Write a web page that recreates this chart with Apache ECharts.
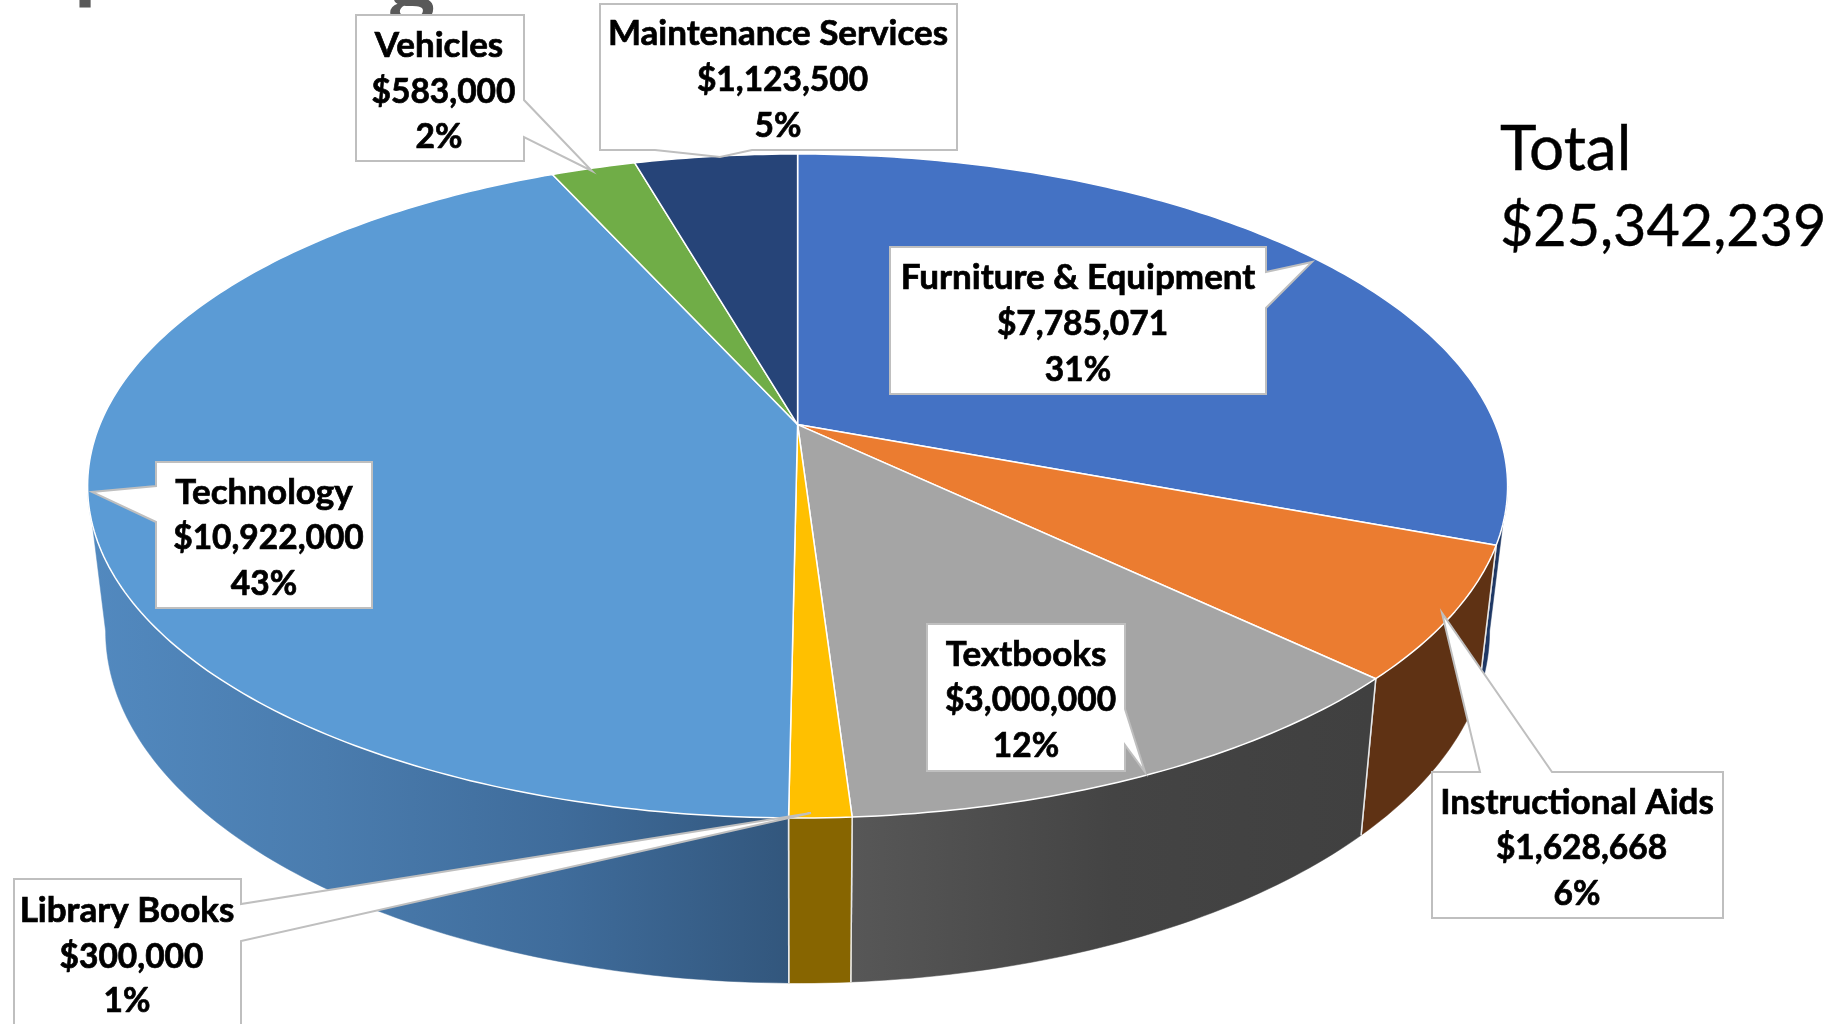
<!DOCTYPE html>
<html>
<head>
<meta charset="utf-8">
<style>html,body{margin:0;padding:0;background:#fff}#c{width:1846px;height:1024px}</style>
<script src="https://cdn.jsdelivr.net/npm/echarts@6/dist/echarts.min.js"></script>
</head>
<body>
<div id="c"></div>
<script>
const categories = ['Furniture & Equipment','Instructional Aids','Textbooks','Library Books','Technology','Vehicles','Maintenance Services'];
const values = [7785071,1628668,3000000,300000,10922000,583000,1123500];
const percentLabels = ['31%','6%','12%','1%','43%','2%','5%'];
const topColors = ['#4472c4','#eb7c30','#a5a5a5','#ffc000','#5b9bd5','#70ad47','#264478'];
const totalLabel = 'Total';

// Projection of the tilted disc (style only, no data)
const TOP = {cx:797.6, cy:486, rx:710, ry:332};
const LOW = {cx:797.6, cy:631, rx:692, ry:352};
const K = -0.185, A = Math.sqrt(1-K*K);
const sum = values.reduce((a,b)=>a+b,0);
const cum = []; values.reduce((a,v,i)=>{cum[i]=a;return a+v;},0);
const ang = v => v/sum*Math.PI*2;
function proj(E,t){
  const X=Math.sin(t), Y=-Math.cos(t), d=1+K*Y;
  return [E.cx+E.rx*X*A/d, E.cy+E.ry*(Y+K)/d];
}
function apex(E){ return [E.cx, E.cy+E.ry*K]; }
function arc(E,a,b){
  const n=Math.max(2,Math.ceil(Math.abs(b-a)/0.015)), p=[];
  for(let i=0;i<=n;i++) p.push(proj(E,a+(b-a)*i/n));
  return p;
}
const grad=(x0,x1,stops)=>new echarts.graphic.LinearGradient(x0,0,x1,0,stops.map((c,i)=>({offset:i/(stops.length-1),color:c})),true);
const wallFill = [
  ()=>'#1f3864',
  ()=>'#5f3214',
  ()=>grad(855,1370,['#575757','#444444','#404040']),
  ()=>'#876500',
  ()=>grad(90,795,['#5289bf','#4a7cae','#3f6c9b','#32567c']),
  ()=>'#3f6129',
  ()=>'#1a2f54'
];
const SIL0=Math.acos(K), SIL1=Math.PI*2-Math.acos(K); // silhouette angles

const callouts = [
 {box:[890,247,1266,394], tail:[[1266,272],[1312,262],[1266,308]], side:'right', x:1078, y:[277,323,369]},
 {box:[1432,772,1723,918], tail:[[1552,772],[1442,613],[1480,772]], side:'top', x:1577, y:[802,847,893]},
 {box:[927,624,1125,771], tail:[[1125,709],[1145,772],[1125,745]], side:'right', x:1026, y:[654,699,745]},
 {box:[14,879,241,1060], tail:[[241,904],[811,813],[241,941]], side:'right', x:127, y:[910,956,1000]},
 {box:[156,462,372,608], tail:[[156,522],[92,492],[156,486]], side:'left', x:264, y:[492,537,583]},
 {box:[356,15,524,161], tail:[[524,100],[592,171],[524,137]], side:'right', x:439, y:[45,91,136]},
 {box:[600,4,957,150], tail:[[752,150],[720,157],[655,150]], side:'bottom', x:778, y:[33,79,125]}
];
function calloutPoints(c){
  const [l,t,r,b]=c.box, P=c.tail;
  if(c.side==='right') return [[l,t],[r,t],...P,[r,b],[l,b]];
  if(c.side==='left')  return [[l,t],[r,t],[r,b],[l,b],...P];
  if(c.side==='top')   return [[l,t],...P.slice().reverse(),[r,t],[r,b],[l,b]];
  return [[l,t],[r,t],[r,b],...P,[l,b]];
}
const FONTS = ['bold 35px Lato','bold 33.5px Lato','bold 33.5px Lato'];
const seriesData = categories.map((n,i)=>({name:n,value:[values[i]]}));

const option = {
  backgroundColor:'#fff',
  animation:false,
  graphic:[
    {type:'text',silent:true,style:{text:'p',x:74,y:-37,font:'bold 90px Lato',fill:'#595959',verticalAlign:'middle'},z:1},
    {type:'text',silent:true,style:{text:'g',x:388,y:-21,font:'bold 90px Lato',fill:'#595959',verticalAlign:'middle'},z:1},
    {type:'text',silent:true,style:{text:totalLabel,x:1500,y:150,font:'62px Lato',fill:'#000',stroke:'#000',lineWidth:0.4,verticalAlign:'middle'},z:1},
    {type:'text',silent:true,style:{text:'$'+sum.toLocaleString('en-US'),x:1500,y:227,font:'57.5px Lato',fill:'#000',stroke:'#000',lineWidth:0.4,verticalAlign:'middle'},z:1}
  ],
  series:[
    {type:'custom',name:'Sides',coordinateSystem:'none',data:seriesData,z:2,silent:true,clip:false,
     renderItem(params,api){
       const i=params.dataIndex, a=ang(cum[i]), b=a+ang(api.value(0));
       const s=Math.max(a,SIL0), e=Math.min(b,SIL1);
       if(e<=s) return {type:'group',children:[]};
       const pts=arc(TOP,s,e).concat(arc(LOW,s,e).reverse());
       const fill=wallFill[i]();
       const kids=[{type:'polygon',shape:{points:pts},style:{fill,stroke:fill,lineWidth:0.5}}];
       [a,b].forEach(t=>{ if(t>SIL0&&t<SIL1) kids.push({type:'line',shape:{x1:proj(TOP,t)[0],y1:proj(TOP,t)[1],x2:proj(LOW,t)[0],y2:proj(LOW,t)[1]},style:{stroke:'#e8e8e8',lineWidth:1.5}}); });
       return {type:'group',children:kids};
     }},
    {type:'custom',name:'Slices',coordinateSystem:'none',data:seriesData,z:3,silent:true,clip:false,
     renderItem(params,api){
       const i=params.dataIndex, a=ang(cum[i]), b=a+ang(api.value(0));
       return {type:'polygon',shape:{points:[apex(TOP)].concat(arc(TOP,a,b))},
         style:{fill:topColors[i],stroke:'#ffffff',lineWidth:1.5,lineJoin:'round'}};
     }},
    {type:'custom',name:'Labels',coordinateSystem:'none',data:seriesData,z:4,silent:true,clip:false,
     renderItem(params,api){
       const i=params.dataIndex, c=callouts[i];
       const lines=[categories[i],'$'+api.value(0).toLocaleString('en-US'),percentLabels[i]];
       const kids=[{type:'polygon',shape:{points:calloutPoints(c)},style:{fill:'#fff',stroke:'#bfbfbf',lineWidth:2,lineJoin:'miter'}}];
       lines.forEach((t,j)=>kids.push({type:'text',style:{text:t,x:c.x+(j===1?4.5:0),y:c.y[j]+1,font:FONTS[j],fill:'#000',stroke:'#000',lineWidth:0.7,align:'center',verticalAlign:'middle'}}));
       return {type:'group',children:kids};
     }}
  ]
};
const chart=echarts.init(document.getElementById('c'));
chart.setOption(option);
</script>
</body>
</html>
